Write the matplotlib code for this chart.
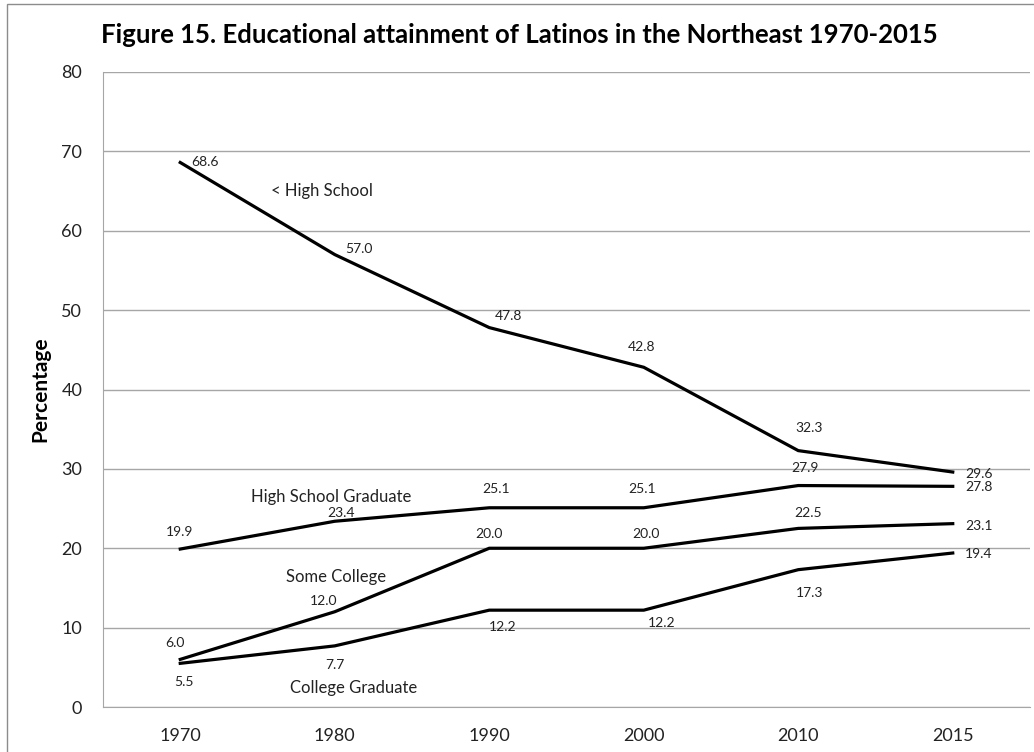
import matplotlib
matplotlib.use('Agg')
import matplotlib.pyplot as plt
from matplotlib.patches import Rectangle

# Data
years = ['1970', '1980', '1990', '2000', '2010', '2015']
less_high_school = [68.6, 57.0, 47.8, 42.8, 32.3, 29.6]
high_school_grad = [19.9, 23.4, 25.1, 25.1, 27.9, 27.8]
some_college = [6.0, 12.0, 20.0, 20.0, 22.5, 23.1]
college_grad = [5.5, 7.7, 12.2, 12.2, 17.3, 19.4]

series_names = ['< High School', 'High School Graduate', 'Some College', 'College Graduate']
series_values = [less_high_school, high_school_grad, some_college, college_grad]

# label offsets in pixels (dx, dy up), one per point
label_offsets = [
    [(25, 0), (24, 6), (19, 12), (-2, 20), (11, 23), (26, -2)],
    [(-1, 17), (6, 8), (7, 19), (-2, 19), (7, 18), (26, -1)],
    [(-5, 16), (-11, 11), (0, 14), (2, 14), (10, 15), (26, -2)],
    [(4, -19), (0, -19), (13, -17), (18, -13), (11, -23), (26, -1)],
]
# series name label positions (x in category units, y in data units)
name_pos = [(0.92, 65.0), (0.98, 26.5), (1.01, 16.4), (1.12, 2.4)]

plt.rcParams['font.family'] = ['Lato', 'DejaVu Sans']

fig = plt.figure(figsize=(10.34, 7.52), dpi=100)
ax = fig.add_axes([103 / 1034, 1 - 707 / 752, 927 / 1034, 635 / 752])

x = list(range(len(years)))
for vals, offs in zip(series_values, label_offsets):
    ax.plot(x, vals, color='black', linewidth=2.3, solid_joinstyle='miter')
    for xi, v, (dx, dy) in zip(x, vals, offs):
        ax.annotate(f'{v:.1f}', (xi, v), xytext=(dx, dy), textcoords='offset pixels',
                    ha='center', va='center', fontsize=10, color='#222222')

for name, (nx, ny) in zip(series_names, name_pos):
    ax.text(nx, ny, name, ha='center', va='center', fontsize=12, color='#222222')

ax.set_xlim(-0.5, 5.5)
ax.set_ylim(0, 80)
ax.set_yticks(range(0, 81, 10))
ax.set_xticks(x)
ax.set_xticklabels(years)
ax.tick_params(axis='both', length=0, labelsize=13, colors='#222222')
ax.tick_params(axis='x', pad=15)
ax.tick_params(axis='y', pad=15)
ax.yaxis.grid(True, color='#A6A6A6', linewidth=1.0)
ax.set_axisbelow(True)
for side in ['top', 'right']:
    ax.spines[side].set_visible(False)
ax.spines['left'].set_color('#A6A6A6')
ax.spines['bottom'].set_color('#A6A6A6')

ax.set_ylabel('Percentage', fontsize=15, fontweight='bold', labelpad=8)
fig.text(519 / 1034, 1 - 35 / 752, 'Figure 15. Educational attainment of Latinos in the Northeast 1970-2015',
         ha='center', va='center', fontsize=18.5, fontweight='bold')

# outer chart border (cropped on right and bottom)
fig.patches.append(Rectangle((7 / 1034, -0.1), 1.2, 1.1 - 4 / 752, transform=fig.transFigure,
                             fill=False, edgecolor='#8C8C8C', linewidth=1.0))

fig.savefig('out.png', dpi=100)
